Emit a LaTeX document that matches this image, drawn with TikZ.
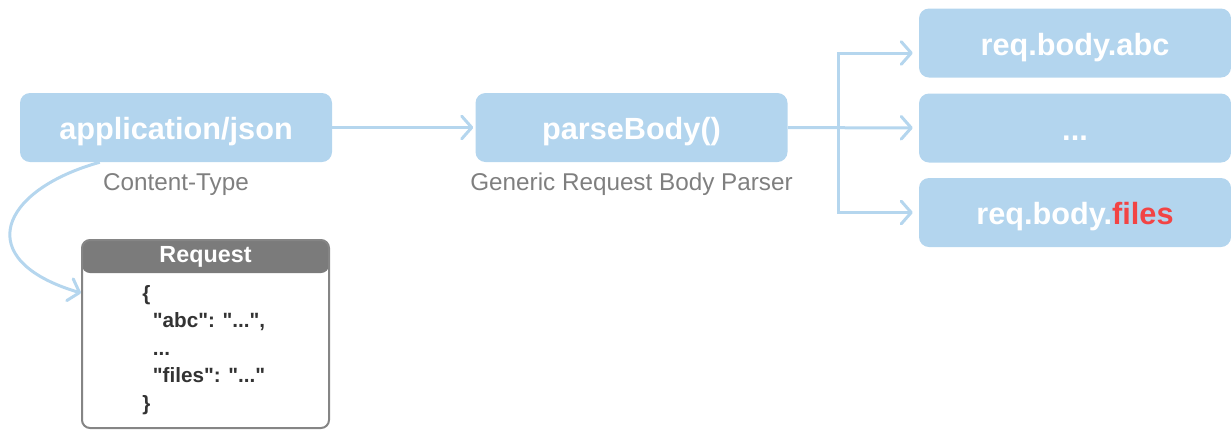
\documentclass[tikz,border=0pt]{standalone}
\usepackage{fontspec}
\setmainfont{Liberation Sans}[Ligatures=TeXOff]
\usepackage{tikz}
\usetikzlibrary{arrows.meta,positioning,calc}
\definecolor{pillblue}{HTML}{B3D5EE}
\definecolor{flowblue}{HTML}{B5D6EE}
\definecolor{capgray}{HTML}{7F7F7F}
\definecolor{headgray}{HTML}{7B7B7B}
\definecolor{framegray}{HTML}{858585}
\definecolor{codeink}{HTML}{333333}
\definecolor{hotred}{HTML}{F24444}
\tikzset{
  pill/.style={fill=pillblue,rounded corners=7.5pt,minimum width=234pt,
               minimum height=51.75pt,inner sep=0pt,text=white,
               text height=18pt,text depth=0pt,
               font=\fontsize{23}{27}\selectfont\bfseries},
  caption/.style={text=capgray,inner sep=0pt,font=\fontsize{18.2}{22}\selectfont},
  flowarr/.style={-{Straight Barb[length=7.5pt,width=17pt,round]},line width=2.25pt,
                  draw=flowblue},
  reqframe/.style={draw=framegray,fill=white,line width=1.5pt,rounded corners=6pt,
                   minimum width=185.25pt,minimum height=141pt,inner sep=0pt},
  reqtitle/.style={text=white,inner sep=0pt,font=\fontsize{17.5}{21}\selectfont\bfseries},
  reqbody/.style={text=codeink,align=left,inner sep=0pt,
                  font=\fontsize{15.5}{20.6}\selectfont\bfseries}
}
\begin{document}
\begin{tikzpicture}[x=0.75pt,y=-0.75pt]
    \path[use as bounding box] (0,0) rectangle (1231,430);

    \node[pill] (appjson) at (176,127.5) {application/json};
    \node[caption,anchor=base] (cttype) at (176,190) {Content-Type};
    \node[pill] (parser) at (631.5,127.5) {parseBody()};
    \node[caption,anchor=base] (parsercap) at (631.5,190) {Generic Request Body Parser};

    \node[pill] (abc) at (1075,43) {req.body.abc};
    \node[pill] (etc) at (1075,128) {...};
    \node[pill] (files) at (1075,212.5) {req.body.\textcolor{hotred}{files}};

    \node[reqframe,path picture={\fill[headgray]
        (path picture bounding box.north west) rectangle
        ([yshift=-24.75pt]path picture bounding box.north east);}]
      (request) at (205.5,334) {};
    \node[reqtitle] (reqname) at (205.5,256.5) {Request};
    \node[reqbody,anchor=north west] (reqjson) at (142,285)
      {\{\\\hspace*{8pt}"abc": "...",\\\hspace*{8pt}...\\
       \hspace*{8pt}"files": "..."\\\}};

    \coordinate (fork) at (838,127.5);
    \draw[flowarr,shorten >=1.5pt] (appjson) -- (parser);
    \draw[flowarr,shorten >=4.5pt] (parser) -- (etc);
    \draw[flowarr,shorten >=4.5pt] (fork) |- ($(abc.west)+(0,10)$);
    \draw[flowarr,shorten >=4.5pt] (fork) |- (files.west);
    \draw[flowarr] ([xshift=60pt]appjson.south west)
      .. controls (0,190) and (-30,260) .. ([yshift=30.75pt]request.west);
  \end{tikzpicture}
\end{document}
